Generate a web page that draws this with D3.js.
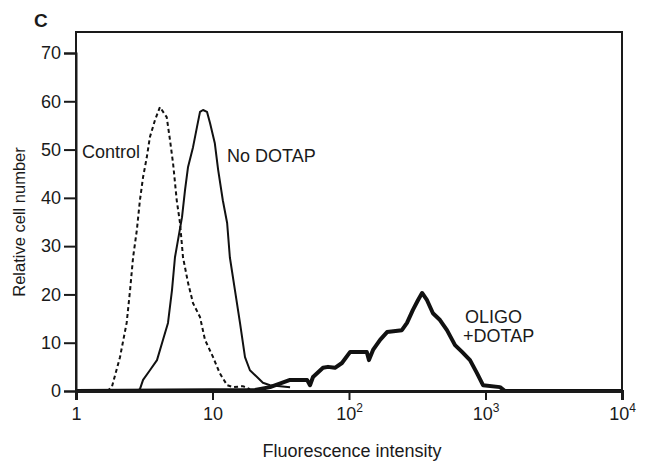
<!DOCTYPE html>
<html><head><meta charset="utf-8">
<script src="https://cdn.jsdelivr.net/npm/d3@7"></script>
<style>body{margin:0;background:#fff}svg{display:block}text{font-family:"Liberation Sans",Arial,Helvetica,sans-serif;fill:#1a1a1a}</style>
</head><body><svg id="c" width="652" height="462"></svg>
<script>
// Fluorescence intensity (x) and relative cell number (y) for each histogram
const controlX = [1.69,1.83,2.10,2.35,2.49,2.62,2.79,2.94,3.10,3.30,3.48,3.79,4.12,4.62,4.88,5.14,5.47,5.78,6.08,6.62,7.20,8.10,8.81,10.1,11.3,12.8,14.1,16.7,18.8];
const controlY = [0,0.8,7.0,14.1,20.9,27.7,33.3,39.5,44.3,48.4,52.6,56.1,58.8,56.7,52.0,47.2,39.5,34.8,27.7,22.4,18.2,15.3,10.6,7.0,3.7,1.2,0.8,1.0,0.4];
const noDotapX = [2.80,2.94,3.10,3.48,3.92,4.34,4.72,5.05,5.31,5.59,5.98,6.29,6.62,7.20,7.70,8.10,8.52,9.12,9.59,10.4,11.0,11.9,12.8,13.4,14.6,15.9,17.3,18.8,21.2,23.4,26.4,37.0];
const noDotapY = [0,0.4,2.3,4.3,6.4,10.6,14.1,20.9,27.7,31.3,36.0,41.6,46.4,50.5,54.7,57.8,58.2,57.8,55.5,51.3,45.8,39.5,34.8,27.7,20.9,14.1,7.0,4.3,2.9,1.7,1.2,0.8];
const oligoX = [1,20.5,26.4,37.0,49.3,51.8,54.5,64.5,70.2,78.9,88.8,102,135,140,150,169,190,244,266,294,320,343,373,412,464,522,598,673,770,866,959,1277,1390,10000];
const oligoY = [0,0.2,0.8,2.3,2.3,1.2,2.9,4.8,5.0,4.8,5.8,8.1,8.1,6.4,8.5,10.6,12.2,12.6,14.1,16.8,18.8,20.3,18.8,16.1,14.7,12.6,9.5,8.1,6.4,3.7,1.2,0.8,0,0];
const yTicks = [0,10,20,30,40,50,60,70];
const xTicks = [1,10,100,1000,10000];
const xTickLabels = [["1",""],["10",""],["10","2"],["10","3"],["10","4"]];

const svg = d3.select("#c");
const L=76, R=622, T=32, B=391;
const x = d3.scaleLog().domain([1,10000]).range([L,R]);
const y = d3.scaleLinear().domain([0,70]).range([B,53]);

const line = d3.line().x(d=>x(d[0])).y(d=>y(d[1]));
const zip = (a,b)=>a.map((v,i)=>[v,b[i]]);

// curves
svg.append("path").attr("d",line(zip(oligoX,oligoY))).attr("fill","none").attr("stroke","#111").attr("stroke-width",4).attr("stroke-linejoin","round");
svg.append("path").attr("d",line(zip(noDotapX,noDotapY))).attr("fill","none").attr("stroke","#111").attr("stroke-width",2).attr("stroke-linejoin","round");
svg.append("path").attr("d",line(zip(controlX,controlY))).attr("fill","none").attr("stroke","#111").attr("stroke-width",2).attr("stroke-dasharray","4,3");

// frame
svg.append("path").attr("d",`M${L},${B}V${T}H${R}V${B}`).attr("fill","none").attr("stroke","#1a1a1a").attr("stroke-width",2);

// axes
const ya = svg.append("g").attr("transform",`translate(${L},0)`).attr("font-size",18).call(d3.axisLeft(y).tickValues(yTicks).tickSize(12).tickPadding(3).tickFormat(d3.format("d")));
ya.attr("font-size",18).attr("font-family",null);
ya.select(".domain").attr("stroke-width",2).attr("stroke","#1a1a1a");
ya.selectAll(".tick line").attr("stroke-width",2).attr("stroke","#1a1a1a");
ya.selectAll(".tick text").attr("fill","#1a1a1a").style("font-size","18px");

const xa = svg.append("g").attr("transform",`translate(0,${B})`).call(d3.axisBottom(x).tickValues(xTicks).tickSize(9).tickFormat(()=>""));
xa.attr("font-size",18).attr("font-family",null);
xa.select(".domain").attr("stroke-width",3).attr("stroke","#1a1a1a");
xa.selectAll(".tick line").attr("stroke-width",2).attr("stroke","#1a1a1a");
xa.selectAll(".tick").each(function(d,i){
  const t = d3.select(this).append("text").attr("y",29).attr("text-anchor","middle").style("font-size","18px").attr("fill","#1a1a1a");
  t.append("tspan").text(xTickLabels[i][0]);
  if (xTickLabels[i][1]) t.append("tspan").attr("dy",-8).style("font-size","12px").text(xTickLabels[i][1]);
});

// titles
svg.append("text").attr("x",34).attr("y",27).style("font-size","19px").style("font-weight","bold").text("C");
svg.append("text").attr("transform","translate(25,222) rotate(-90)").attr("text-anchor","middle").style("font-size","16.5px").text("Relative cell number");
svg.append("text").attr("x",352).attr("y",457).attr("text-anchor","middle").style("font-size","18px").text("Fluorescence intensity");

// annotations
svg.append("text").attr("x",82).attr("y",158).style("font-size","18px").text("Control");
svg.append("text").attr("x",227).attr("y",162).style("font-size","18px").text("No DOTAP");
svg.append("text").attr("x",465).attr("y",323).style("font-size","18px").text("OLIGO");
svg.append("text").attr("x",463).attr("y",342).style("font-size","18px").text("+DOTAP");
</script></body></html>
